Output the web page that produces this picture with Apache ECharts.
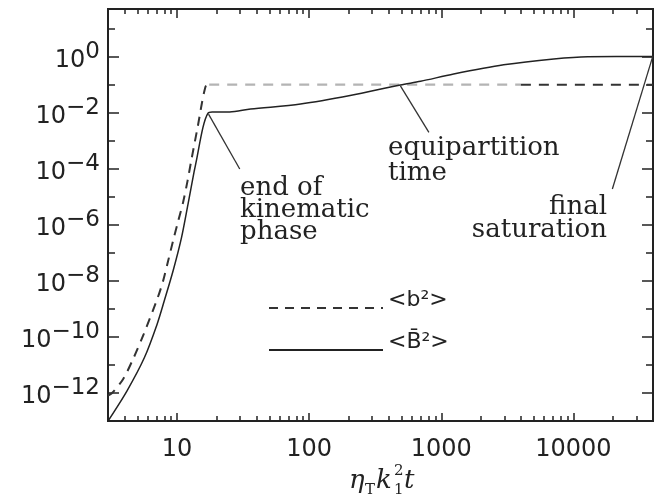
<!DOCTYPE html>
<html lang="en">
<head>
<meta charset="UTF-8">
<title>Field energy growth and saturation</title>
<style>html,body{margin:0;padding:0;background:#fff;} #chart{width:654px;height:502px;}</style>
</head>
<body>
<div id="chart"></div>
<script src="https://cdn.jsdelivr.net/npm/echarts@6/dist/echarts.min.js"></script>
<script>
// time in units of eta_T k_1^2 t
var bRiseTime = [3.0, 3.22, 3.9, 4.69, 5.59, 7.13, 7.84, 8.55, 9.33, 10.2, 11.1, 12.0, 12.8, 14.3, 16.4, 17.5];
var bRiseEnergy = [8e-13, 1.0e-12, 3.1e-12, 1.8e-11, 1.26e-10, 2.5e-9, 1.0e-8, 5.1e-8, 2.7e-7, 1.38e-6, 6.3e-6, 3.7e-5, 1.95e-4, 3.0e-3, 0.085, 0.1];
var bPlateauTime = [17.5, 4000];
var bPlateauEnergy = [0.1, 0.1];
var bLateTime = [4000, 40000];
var bLateEnergy = [0.1, 0.1];
var meanTime = [3.0, 4.18, 5.65, 7.05, 8.0, 9.33, 10.8, 12.1, 13.5, 14.0, 15.7, 17.1, 18.5, 25, 36, 86, 204, 490, 697, 1239, 2962, 7093, 12830, 40000];
var meanEnergy = [1e-13, 1.2e-12, 1.8e-11, 2.8e-10, 1.95e-9, 2.3e-8, 3.5e-7, 5.5e-6, 8.5e-5, 1.95e-4, 3.0e-3, 9.5e-3, 1.05e-2, 1.07e-2, 1.35e-2, 2.04e-2, 4.1e-2, 9.8e-2, 0.132, 0.24, 0.51, 0.83, 1.0, 1.02];

// ticks
var xMajorTicks = [10, 100, 1000, 10000];
var xMinorTicks = [4, 5, 6, 7, 8, 9, 20, 30, 40, 50, 60, 70, 80, 90,
    200, 300, 400, 500, 600, 700, 800, 900, 2000, 3000, 4000, 5000, 6000, 7000, 8000, 9000, 20000, 30000];
var yMajorExp = [0, -2, -4, -6, -8, -10, -12];
var yMinorExp = [1, -1, -3, -5, -7, -9, -11];

// annotation pointers [from, to] as [time, energy]
var pointers = [
    [[17.3, 8.9e-3], [29.8, 9.8e-5]],
    [[490, 0.091], [805, 2.0e-3]],
    [[40000, 1.09], [19700, 1.9e-5]]
];

var xMin = Math.log10(3), xMax = Math.log10(40000);
var yMin = -13, yMax = 1.7;
var ink = '#222';

function pairs(ts, es) {
    return ts.map(function (t, i) { return [Math.log10(t), Math.log10(es[i])]; });
}
function logs(arr) { return arr.map(function (v) { return Math.log10(v); }); }

function xAxisCfg(pos, ticks, len, labels) {
    return {
        type: 'value', position: pos, min: xMin, max: xMax,
        axisLine: {show: true, onZero: false, lineStyle: {color: ink, width: 2}},
        axisTick: {show: true, inside: true, length: len, customValues: ticks, lineStyle: {color: ink, width: 1.5}},
        axisLabel: labels ? {
            show: true, customValues: ticks, margin: 17,
            fontFamily: 'DejaVu Sans', fontSize: 24, color: ink,
            formatter: function (v) { return String(Math.round(Math.pow(10, v))); }
        } : {show: false},
        splitLine: {show: false}
    };
}
function yAxisCfg(pos, ticks, len, labels) {
    return {
        type: 'value', position: pos, min: yMin, max: yMax,
        axisLine: {show: true, onZero: false, lineStyle: {color: ink, width: 2}},
        axisTick: {show: true, inside: true, length: len, customValues: ticks, lineStyle: {color: ink, width: 1.5}},
        axisLabel: labels ? {
            show: true, customValues: ticks, margin: 8,
            formatter: function (v) {
                var e = Math.round(v);
                return '{b|10}{e|' + (e < 0 ? '\u2212' + (-e) : e) + '}';
            },
            rich: {
                b: {fontFamily: 'DejaVu Sans', fontSize: 24, color: ink, lineHeight: 32, verticalAlign: 'bottom'},
                e: {fontFamily: 'DejaVu Sans', fontSize: 23, color: ink, lineHeight: 14, verticalAlign: 'top'}
            }
        } : {show: false},
        splitLine: {show: false}
    };
}

var serif = '"DejaVu Serif", "Liberation Serif", serif';
function txt(x, y, s, font, align, lh) {
    return {type: 'text', x: x, y: y, silent: true,
        style: {text: s, font: font, fill: ink, align: align || 'left', verticalAlign: 'top', lineHeight: lh || 24}};
}
function sym(x, y, s, font) {
    return {type: 'text', x: x, y: y, silent: true, style: {text: s, font: font, fill: ink, verticalAlign: 'middle'}};
}

var chart = echarts.init(document.getElementById('chart'));
var option = {
    animation: false,
    grid: {left: 108, right: 1, top: 9, bottom: 81},
    xAxis: [
        xAxisCfg('bottom', logs(xMajorTicks), 8, true),
        xAxisCfg('bottom', logs(xMinorTicks), 5, false),
        xAxisCfg('top', logs(xMajorTicks), 9, false),
        xAxisCfg('top', logs(xMinorTicks), 5, false)
    ],
    yAxis: [
        yAxisCfg('left', yMajorExp, 11, true),
        yAxisCfg('left', yMinorExp, 7, false),
        yAxisCfg('right', yMajorExp, 11, false),
        yAxisCfg('right', yMinorExp, 7, false)
    ],
    legend: {
        data: ['<b\u00b2>', '<B\u0304\u00b2>'],
        orient: 'vertical', left: 268, top: 289, padding: 0,
        itemWidth: 114, itemHeight: 14, itemGap: 4,
        itemStyle: {opacity: 0},
        formatter: function (name) { return '{t|' + name + '}'; },
        textStyle: {
            color: ink,
            rich: {t: {fontFamily: 'DejaVu Sans', fontSize: 22, color: ink, lineHeight: 22, padding: [0, 0, 16, 0]}}
        }
    },
    series: [
        {
            name: '<b\u00b2>', type: 'line', symbol: 'none', smooth: 0.3,
            data: pairs(bRiseTime, bRiseEnergy),
            lineStyle: {color: '#333', width: 2, type: [9, 7]}, itemStyle: {color: '#333'}
        },
        {
            name: 'plateau', type: 'line', symbol: 'none', data: pairs(bPlateauTime, bPlateauEnergy),
            lineStyle: {color: '#b4b4b4', width: 2.4, type: [10, 8]}, itemStyle: {color: '#b4b4b4'}
        },
        {
            name: '<b\u00b2>', type: 'line', symbol: 'none', data: pairs(bLateTime, bLateEnergy),
            lineStyle: {color: '#333', width: 2, type: [10, 8]}, itemStyle: {color: '#333'}
        },
        {
            name: '<B\u0304\u00b2>', type: 'line', symbol: 'none', smooth: 0.3,
            data: pairs(meanTime, meanEnergy),
            lineStyle: {color: ink, width: 1.5}, itemStyle: {color: ink},
            markLine: {
                silent: true, symbol: ['none', 'none'], label: {show: false},
                lineStyle: {color: '#333', width: 1.3, type: 'solid'},
                data: pointers.map(function (p) {
                    return [{coord: [Math.log10(p[0][0]), Math.log10(p[0][1])]},
                            {coord: [Math.log10(p[1][0]), Math.log10(p[1][1])]}];
                })
            }
        }
    ],
    graphic: [
        txt(240, 177, 'end of\nkinematic\nphase', '26px ' + serif, 'left', 22),
        txt(388, 136, 'equipartition\ntime', '26px ' + serif, 'left', 25),
        txt(607, 196, 'final\nsaturation', '26px ' + serif, 'right', 23),
        // axis title: eta_T k_1^2 t
        sym(349, 481, '\u03b7', 'italic 26px ' + serif),
        sym(365, 490, 'T', '15px ' + serif),
        sym(376, 481, 'k', 'italic 26px ' + serif),
        sym(394, 471, '2', '15px ' + serif),
        sym(394, 490, '1', '15px ' + serif),
        sym(404, 481, 't', 'italic 26px ' + serif)
    ]
};
chart.setOption(option);
</script>
</body>
</html>
